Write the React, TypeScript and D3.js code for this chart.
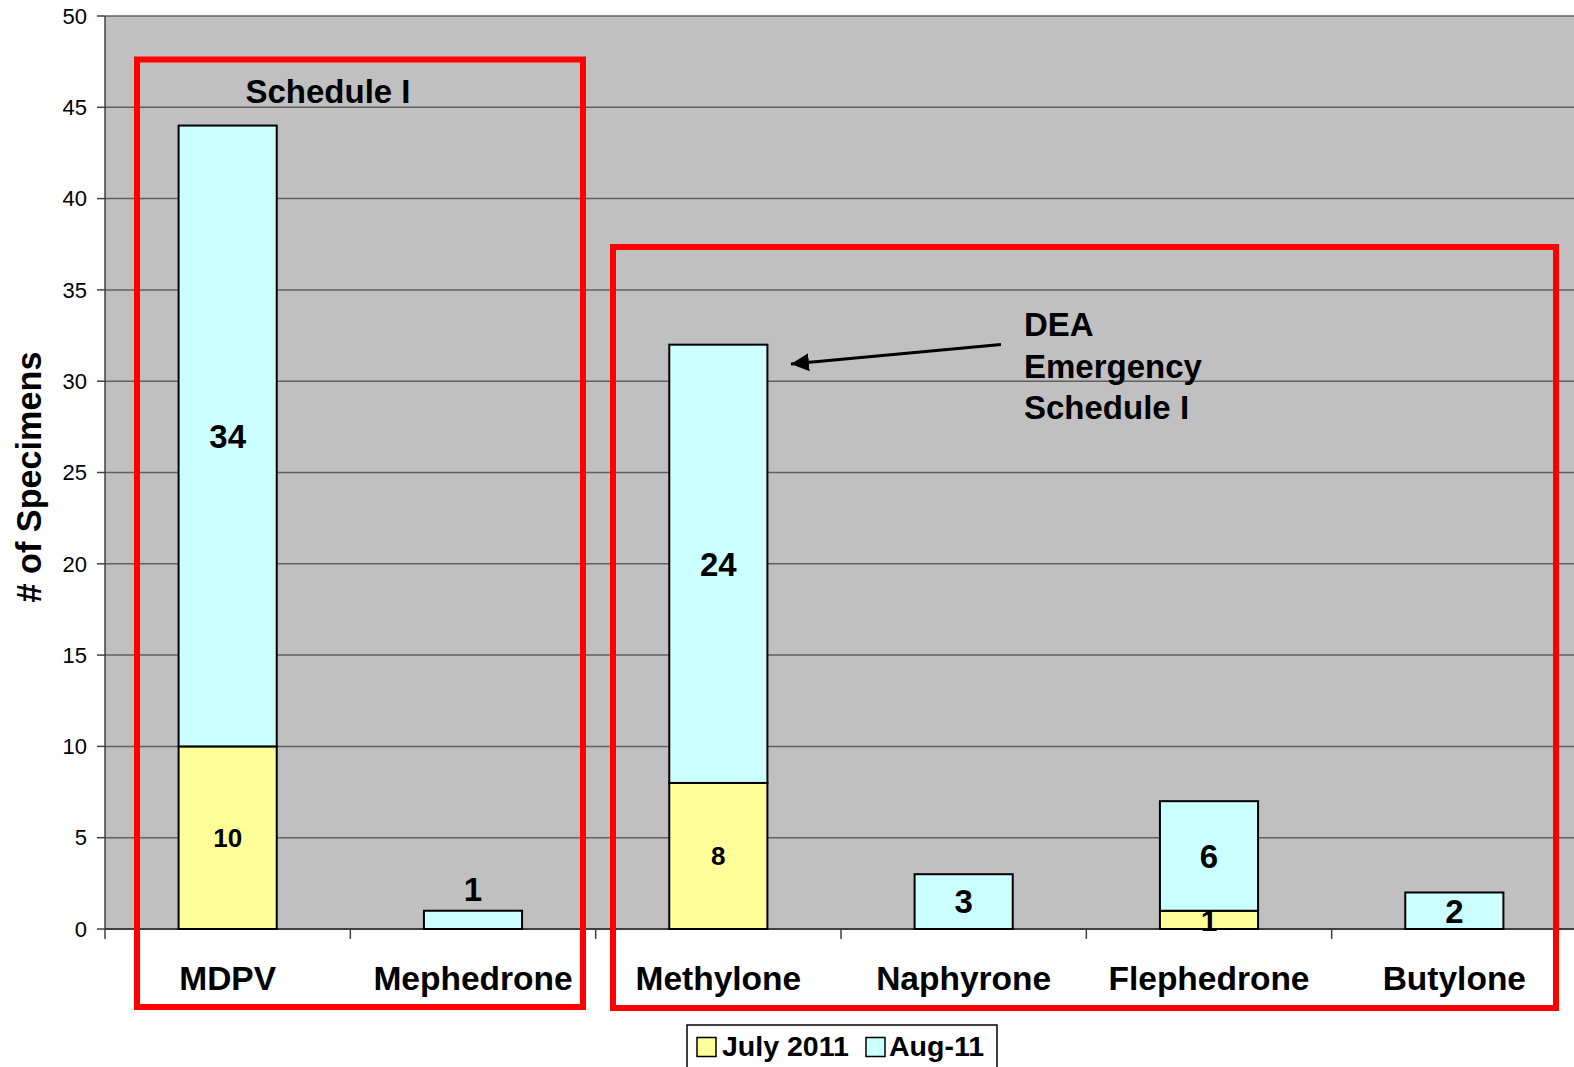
import React from "react";
import * as d3 from "d3";

const categories = ["MDPV", "Mephedrone", "Methylone", "Naphyrone", "Flephedrone", "Butylone"];
const july2011 = [10, 0, 8, 0, 1, 0];
const aug11 = [34, 1, 24, 3, 6, 2];
const seriesNames = ["July 2011", "Aug-11"];
const seriesColors = ["#FFFF99", "#CCFFFF"];
const yTicks = [0, 5, 10, 15, 20, 25, 30, 35, 40, 45, 50];
const labelsAbove = ["Mephedrone"];

const W = 1574;
const H = 1067;
const left = 105;
const right = 1577;
const top = 16;
const bottom = 929;
const FONT = "'Liberation Sans', Arial, sans-serif";

export default function App() {
  const x = d3.scaleBand<string>().domain(categories).range([left, right]).paddingInner(0.6).paddingOuter(0.3);
  const xb = d3.scaleBand<string>().domain(categories).range([left, right]);
  const y = d3.scaleLinear().domain([0, 50]).range([bottom, top]);

  const rows = categories.map((c, i) => ({ cat: c, july: july2011[i], aug: aug11[i] }));
  const stack = d3.stack<any>().keys(["july", "aug"])(rows);

  const bw = x.bandwidth();

  return (
    <div style={{ position: "fixed", left: 0, top: 0, width: "100vw", height: "100vh", overflow: "hidden", background: "#fff" }}>
      <svg width="100%" height="100%" viewBox={`0 0 ${W} ${H}`} preserveAspectRatio="none" style={{ display: "block" }} fontFamily={FONT}>
        <rect x={left} y={top} width={W - left} height={bottom - top} fill="#C0C0C0" />
        {yTicks.map((t) => (
          <g key={t}>
            <line x1={left} x2={W} y1={y(t)} y2={y(t)} stroke="#606060" strokeWidth={1.5} />
            <line x1={97} x2={left} y1={y(t)} y2={y(t)} stroke="#404040" strokeWidth={1.5} />
            <text x={87} y={y(t)} dy="0.35em" textAnchor="end" fontSize={22} fill="#000">{t}</text>
          </g>
        ))}
        <line x1={left} x2={left} y1={top} y2={bottom + 10} stroke="#404040" strokeWidth={1.5} />
        <line x1={left} x2={W} y1={bottom} y2={bottom} stroke="#404040" strokeWidth={2} />
        {categories.map((c) => (
          <line key={c} x1={xb(c)! + xb.bandwidth()} x2={xb(c)! + xb.bandwidth()} y1={bottom} y2={bottom + 10} stroke="#404040" strokeWidth={1.5} />
        ))}

        {stack.map((s, si) => (
          <g key={si}>
            {s.map((d, i) => {
              const v = d[1] - d[0];
              if (v <= 0) return null;
              return (
                <rect key={i} x={x(categories[i])} y={y(d[1])} width={bw} height={y(d[0]) - y(d[1])} fill={seriesColors[si]} stroke="#000" strokeWidth={2} />
              );
            })}
          </g>
        ))}
        {stack.map((s, si) => (
          <g key={"l" + si}>
            {s.map((d, i) => {
              const v = d[1] - d[0];
              if (v <= 0) return null;
              const cat = categories[i];
              const above = labelsAbove.includes(cat);
              const cy = above ? y(d[1]) - 22 : (y(d[0]) + y(d[1])) / 2;
              const fs = si === 0 ? (v >= 5 ? 26 : 30) : 33;
              return (
                <text key={i} x={x(cat)! + bw / 2} y={cy} dy="0.36em" textAnchor="middle" fontSize={fs} fontWeight="bold" fill="#000">{v}</text>
              );
            })}
          </g>
        ))}

        {categories.map((c) => (
          <text key={c} x={xb(c)! + xb.bandwidth() / 2} y={990} textAnchor="middle" fontSize={33.5} fontWeight="bold" fill="#000">{c}</text>
        ))}

        <rect x={137} y={59.5} width={446} height={947.5} fill="none" stroke="#FF0000" strokeWidth={6} />
        <rect x={613} y={247} width={943} height={761} fill="none" stroke="#FF0000" strokeWidth={6} />

        <text x={328} y={102.5} textAnchor="middle" fontSize={33} fontWeight="bold">Schedule I</text>

        <text x={1024} fontSize={33} fontWeight="bold">
          <tspan x={1024} y={335.5}>DEA</tspan>
          <tspan x={1024} y={377.5}>Emergency</tspan>
          <tspan x={1024} y={419}>Schedule I</tspan>
        </text>
        <defs>
          <marker id="ah" viewBox="0 0 10 10" refX="10" refY="5" markerWidth="6" markerHeight="6" orient="auto">
            <path d="M0,0 L10,5 L0,10 z" fill="#000" />
          </marker>
        </defs>
        <line x1={1001} y1={344.5} x2={791} y2={364} stroke="#000" strokeWidth={3} markerEnd="url(#ah)" />

        <text x={29} y={477} transform="rotate(-90 29 477)" textAnchor="middle" dy="0.35em" fontSize={34.2} fontWeight="bold">
          # of Specimens
        </text>

        <g>
          <rect x={687} y={1025} width={310} height={60} fill="#fff" stroke="#000" strokeWidth={1.5} />
          <rect x={697} y={1037.5} width={19} height={19} fill={seriesColors[0]} stroke="#000" strokeWidth={1.5} />
          <text x={722} y={1056} fontSize={28.5} fontWeight="bold">{seriesNames[0]}</text>
          <rect x={866} y={1037.5} width={19} height={19} fill={seriesColors[1]} stroke="#000" strokeWidth={1.5} />
          <text x={889} y={1056} fontSize={28.5} fontWeight="bold">{seriesNames[1]}</text>
        </g>
      </svg>
    </div>
  );
}
